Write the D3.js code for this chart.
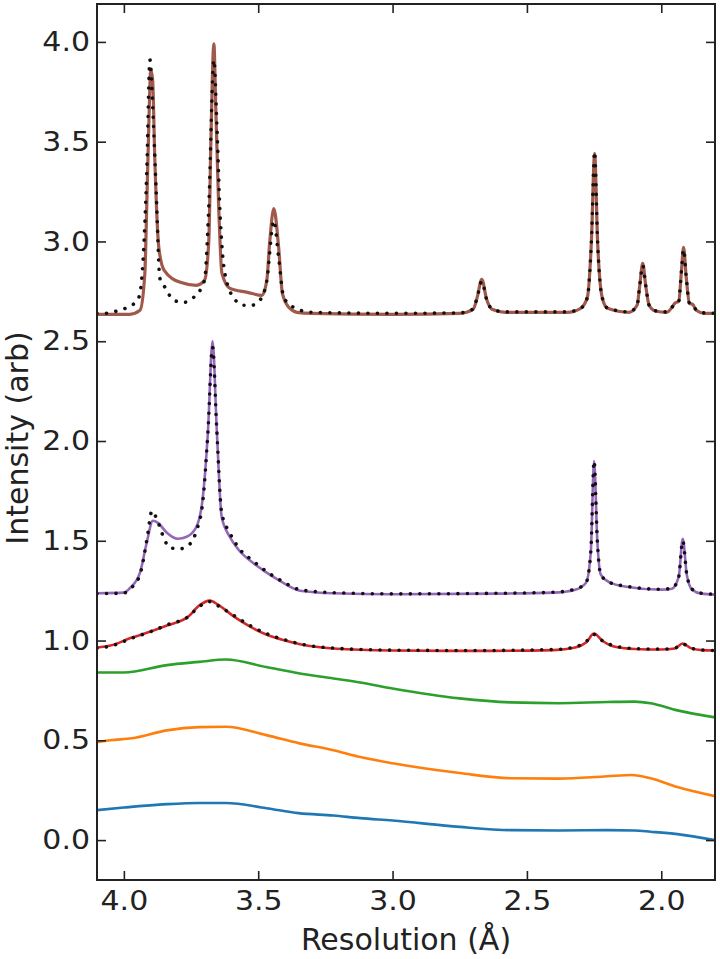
<!DOCTYPE html>
<html lang="en">
<head>
  <meta charset="utf-8">
  <title>Intensity vs resolution</title>
  <script src="https://d3js.org/d3.v7.min.js"></script>
  <style>
    body { margin: 0; background: #fff; }
    text { font-family: "DejaVu Sans", sans-serif; fill: #222; }
  </style>
</head>
<body>
<script>
// [resolution (Å), intensity] pairs
var blueLine = [[4.10,0.15],[4.00,0.163],[3.84,0.18],[3.72,0.186],[3.62,0.186],[3.47,0.16],[3.35,0.135],[3.22,0.123],[3.12,0.11],[3.00,0.098],[2.75,0.066],[2.56,0.05],[2.38,0.048],[2.20,0.05],[2.10,0.048],[2.04,0.042],[1.94,0.03],[1.80,0.0]];
var orangeLine = [[4.10,0.49],[4.05,0.50],[3.97,0.51],[3.84,0.55],[3.72,0.566],[3.62,0.568],[3.47,0.526],[3.35,0.486],[3.22,0.45],[3.12,0.416],[3.00,0.385],[2.75,0.336],[2.56,0.31],[2.38,0.308],[2.20,0.32],[2.11,0.326],[2.04,0.31],[1.94,0.266],[1.80,0.22]];
var greenLine = [[4.10,0.84],[4.00,0.84],[3.84,0.877],[3.72,0.893],[3.62,0.905],[3.47,0.867],[3.35,0.836],[3.22,0.81],[3.12,0.79],[3.00,0.76],[2.75,0.71],[2.56,0.69],[2.38,0.686],[2.20,0.692],[2.10,0.694],[2.04,0.686],[1.94,0.65],[1.80,0.615]];

var redLine = [[4.10,0.965],[4.05,0.975],[3.97,1.015],[3.90,1.045],[3.84,1.075],[3.76,1.12],[3.72,1.175],[3.68,1.20],[3.65,1.18],[3.59,1.12],[3.53,1.07],[3.47,1.03],[3.40,1.0],[3.34,0.98],[3.22,0.96],[3.00,0.95],[2.70,0.948],[2.40,0.952],[2.32,0.965],[2.28,0.99],[2.25,1.035],[2.22,1.0],[2.18,0.972],[2.10,0.958],[2.00,0.955],[1.95,0.96],[1.92,0.985],[1.89,0.962],[1.85,0.952],[1.80,0.95]];
var redFit = [[4.10,0.962],[4.05,0.972],[3.97,1.012],[3.90,1.045],[3.84,1.078],[3.76,1.12],[3.72,1.17],[3.68,1.195],[3.65,1.175],[3.59,1.125],[3.53,1.075],[3.47,1.035],[3.40,1.003],[3.34,0.982],[3.22,0.962],[3.00,0.952],[2.70,0.95],[2.40,0.955],[2.32,0.968],[2.28,0.995],[2.25,1.03],[2.22,1.0],[2.18,0.975],[2.10,0.96],[2.00,0.957],[1.95,0.962],[1.92,0.982],[1.89,0.962],[1.85,0.953],[1.80,0.95]];

var purpleLine = [[4.10,1.237],[4.00,1.24],[3.978,1.262],[3.94,1.34],[3.915,1.49],[3.892,1.60],[3.873,1.59],[3.84,1.54],[3.80,1.51],[3.766,1.52],[3.73,1.57],[3.706,1.72],[3.687,2.05],[3.67,2.50],[3.654,2.05],[3.636,1.62],[3.606,1.52],[3.57,1.45],[3.52,1.39],[3.468,1.34],[3.408,1.29],[3.345,1.25],[3.22,1.237],[3.00,1.232],[2.60,1.235],[2.40,1.24],[2.32,1.255],[2.28,1.29],[2.262,1.45],[2.25,1.90],[2.238,1.50],[2.225,1.33],[2.19,1.29],[2.13,1.27],[2.00,1.255],[1.96,1.26],[1.935,1.32],[1.92,1.51],[1.905,1.33],[1.885,1.255],[1.85,1.235],[1.80,1.23]];
var purpleFit = [[4.10,1.235],[4.00,1.238],[3.978,1.258],[3.94,1.33],[3.915,1.50],[3.895,1.65],[3.875,1.60],[3.85,1.51],[3.83,1.465],[3.79,1.46],[3.75,1.49],[3.73,1.55],[3.706,1.70],[3.687,2.05],[3.67,2.47],[3.654,2.05],[3.636,1.64],[3.606,1.54],[3.57,1.46],[3.52,1.40],[3.468,1.345],[3.408,1.295],[3.345,1.255],[3.22,1.24],[3.00,1.234],[2.60,1.237],[2.40,1.242],[2.32,1.258],[2.28,1.29],[2.262,1.45],[2.25,1.90],[2.238,1.50],[2.225,1.33],[2.19,1.29],[2.13,1.272],[2.00,1.257],[1.96,1.262],[1.935,1.32],[1.92,1.50],[1.905,1.33],[1.885,1.257],[1.85,1.237],[1.80,1.232]];

var brownLine = [[4.10,2.635],[3.978,2.635],[3.94,2.655],[3.922,2.84],[3.915,3.17],[3.907,3.59],[3.90,3.86],[3.893,3.81],[3.885,3.42],[3.87,2.97],[3.85,2.855],[3.79,2.795],[3.73,2.78],[3.70,2.805],[3.684,3.0],[3.676,3.51],[3.665,3.99],[3.658,3.67],[3.647,3.17],[3.635,2.84],[3.605,2.765],[3.54,2.745],[3.486,2.73],[3.468,2.805],[3.457,3.0],[3.442,3.165],[3.424,2.97],[3.41,2.74],[3.386,2.67],[3.356,2.645],[3.30,2.64],[3.00,2.635],[2.75,2.64],[2.70,2.66],[2.685,2.72],[2.668,2.81],[2.65,2.71],[2.63,2.66],[2.58,2.645],[2.35,2.645],[2.30,2.665],[2.275,2.72],[2.26,3.0],[2.248,3.44],[2.237,3.0],[2.22,2.72],[2.20,2.665],[2.12,2.645],[2.09,2.68],[2.08,2.78],[2.069,2.89],[2.058,2.78],[2.045,2.68],[2.02,2.65],[1.98,2.645],[1.96,2.67],[1.95,2.69],[1.935,2.70],[1.925,2.85],[1.917,2.97],[1.907,2.82],[1.895,2.69],[1.883,2.685],[1.87,2.655],[1.84,2.64],[1.80,2.64]];
var brownFit = [[4.10,2.64],[4.074,2.64],[4.007,2.66],[3.97,2.68],[3.944,2.72],[3.928,2.92],[3.915,3.34],[3.903,3.91],[3.89,3.59],[3.88,3.26],[3.866,2.815],[3.847,2.77],[3.814,2.705],[3.777,2.695],[3.74,2.72],[3.70,2.805],[3.684,3.17],[3.665,3.91],[3.654,3.59],[3.643,3.17],[3.624,2.84],[3.59,2.715],[3.554,2.68],[3.524,2.68],[3.494,2.705],[3.468,2.805],[3.442,3.105],[3.424,2.92],[3.405,2.72],[3.368,2.67],[3.30,2.645],[3.00,2.64],[2.75,2.642],[2.70,2.662],[2.685,2.72],[2.668,2.80],[2.65,2.71],[2.63,2.662],[2.58,2.647],[2.35,2.647],[2.30,2.665],[2.275,2.72],[2.26,3.0],[2.248,3.45],[2.237,3.0],[2.22,2.72],[2.20,2.667],[2.12,2.647],[2.09,2.68],[2.08,2.78],[2.069,2.88],[2.058,2.78],[2.045,2.68],[2.02,2.652],[1.98,2.647],[1.96,2.67],[1.95,2.69],[1.935,2.70],[1.925,2.85],[1.917,2.96],[1.907,2.82],[1.895,2.69],[1.883,2.685],[1.87,2.657],[1.84,2.642],[1.80,2.64]];

var xTicks = [4.0, 3.5, 3.0, 2.5, 2.0];
var yTicks = [0.0, 0.5, 1.0, 1.5, 2.0, 2.5, 3.0, 3.5, 4.0];

var series = [
  { data: blueLine, color: "#1f77b4", width: 2.6 },
  { data: orangeLine, color: "#ff7f0e", width: 2.6 },
  { data: greenLine, color: "#2ca02c", width: 2.6 },
  { data: redLine, color: "#d62728", width: 2.6 },
  { data: purpleLine, color: "#9467bd", width: 2.6 },
  { data: brownLine, color: "#a0594b", width: 3.2 }
];
var fits = [redFit, purpleFit, brownFit];

var W = 720, H = 959;
var margin = { top: 4, right: 5, bottom: 79, left: 97 };
var squash = 0.9; // tick digits look slightly squeezed vertically in the source

var svg = d3.select("body").append("svg")
  .attr("width", W)
  .attr("height", H);

var x = d3.scaleLinear().domain([4.1, 1.8]).range([margin.left, W - margin.right]);
var y = d3.scaleLinear().domain([-0.2, 4.19]).range([H - margin.bottom, margin.top]);

svg.append("clipPath").attr("id", "plot")
  .append("rect")
  .attr("x", margin.left).attr("y", margin.top)
  .attr("width", W - margin.left - margin.right)
  .attr("height", H - margin.top - margin.bottom);

var line = d3.line()
  .x(function(d) { return x(d[0]); })
  .y(function(d) { return y(d[1]); })
  .curve(d3.curveMonotoneX);

var g = svg.append("g").attr("clip-path", "url(#plot)");

series.forEach(function(s) {
  g.append("path")
    .attr("d", line(s.data))
    .attr("fill", "none")
    .attr("stroke", s.color)
    .attr("stroke-width", s.width)
    .attr("stroke-linejoin", "round");
});

fits.forEach(function(f) {
  g.append("path")
    .attr("d", line(f))
    .attr("fill", "none")
    .attr("stroke", "#111")
    .attr("stroke-width", 3.6)
    .attr("stroke-linecap", "round")
    .attr("stroke-dasharray", "0.01 9.5");
});

// axes, ticks pointing inward on all four sides
var fmt = d3.format(".1f");
var axBottom = svg.append("g")
  .attr("transform", "translate(0," + (H - margin.bottom) + ")")
  .call(d3.axisBottom(x).tickValues(xTicks).tickFormat(fmt).tickSize(-9).tickPadding(12));
var axLeft = svg.append("g")
  .attr("transform", "translate(" + margin.left + ",0)")
  .call(d3.axisLeft(y).tickValues(yTicks).tickFormat(fmt).tickSize(-9).tickPadding(7));
var axTop = svg.append("g")
  .attr("transform", "translate(0," + margin.top + ")")
  .call(d3.axisTop(x).tickValues(xTicks).tickFormat("").tickSize(-9));
var axRight = svg.append("g")
  .attr("transform", "translate(" + (W - margin.right) + ",0)")
  .call(d3.axisRight(y).tickValues(yTicks).tickFormat("").tickSize(-9));

[axBottom, axLeft, axTop, axRight].forEach(function(a) {
  a.select(".domain").remove();
  a.selectAll(".tick line").attr("stroke", "#222").attr("stroke-width", 1.6);
  a.selectAll(".tick text").attr("font-size", 30).attr("fill", "#222")
    .attr("font-family", "DejaVu Sans")
    .attr("transform", "scale(1," + squash + ")");
});

svg.append("rect")
  .attr("x", margin.left).attr("y", margin.top)
  .attr("width", W - margin.left - margin.right)
  .attr("height", H - margin.top - margin.bottom)
  .attr("fill", "none")
  .attr("stroke", "#222")
  .attr("stroke-width", 2);

svg.append("text")
  .attr("x", (margin.left + W - margin.right) / 2)
  .attr("y", 950)
  .attr("text-anchor", "middle")
  .attr("font-size", 30)
  .text("Resolution (Å)");

svg.append("text")
  .attr("transform", "translate(28,438) rotate(-90)")
  .attr("text-anchor", "middle")
  .attr("font-size", 30)
  .text("Intensity (arb)");
</script>
</body>
</html>
